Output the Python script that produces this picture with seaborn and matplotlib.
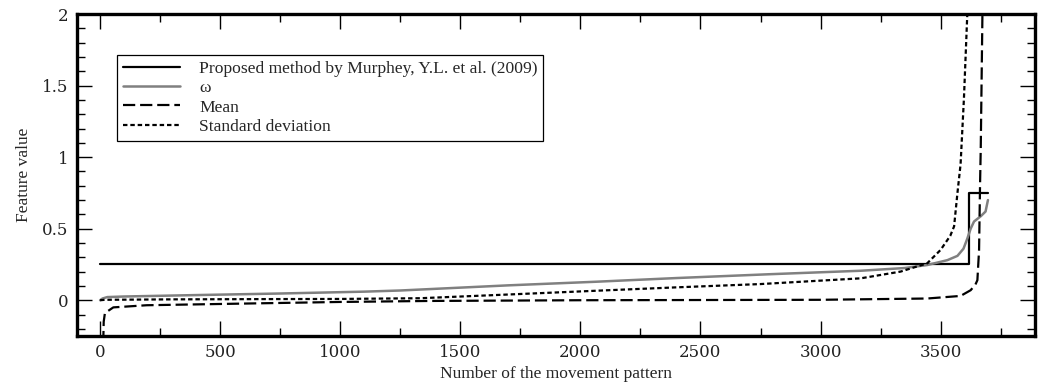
import numpy as np
import pandas as pd
import matplotlib
matplotlib.use("Agg")
import matplotlib.pyplot as plt
import seaborn as sns
from matplotlib.ticker import MultipleLocator

# ---- data ----
proposed_x = [0, 3618, 3618, 3697]
proposed_y = [0.25, 0.25, 0.75, 0.75]

omega_x = [0, 10, 30, 100, 400, 750, 1100, 1250, 1375, 1700, 2062, 2400, 2792, 3167,
           3350, 3444, 3528, 3570, 3595, 3611, 3625, 3639, 3667, 3687, 3697]
omega_y = [0.0, 0.012, 0.022, 0.026, 0.036, 0.047, 0.060, 0.068, 0.078, 0.104, 0.129,
           0.155, 0.182, 0.206, 0.225, 0.246, 0.280, 0.310, 0.360, 0.430, 0.500, 0.550,
           0.587, 0.620, 0.700]

mean_x = [13, 15, 20, 55, 194, 611, 1000, 1375, 2000, 3000, 3444, 3583, 3625, 3645,
          3653, 3660, 3664, 3667, 3674, 3676]
mean_y = [-0.30, -0.15, -0.09, -0.05, -0.035, -0.023, -0.012, -0.005, 0.0, 0.003,
          0.012, 0.030, 0.070, 0.110, 0.140, 0.350, 0.800, 1.060, 2.000, 2.200]

std_x = [0, 20, 300, 700, 1000, 1333, 1700, 2062, 2400, 2750, 3167, 3333, 3444, 3500,
         3540, 3556, 3570, 3583, 3597, 3611, 3615]
std_y = [0.0, 0.003, 0.006, 0.008, 0.009, 0.014, 0.040, 0.066, 0.090, 0.113, 0.153,
         0.200, 0.258, 0.352, 0.450, 0.516, 0.750, 0.950, 1.410, 2.000, 2.200]

labels = ["Proposed method by Murphey, Y.L. et al. (2009)", "\u03c9", "Mean",
          "Standard deviation"]

xticks = [0, 500, 1000, 1500, 2000, 2500, 3000, 3500]
yticks = [0, 0.5, 1, 1.5, 2]
ytick_labels = ["0", "0.5", "1", "1.5", "2"]

# ---- plotting ----
sns.set_theme(style="white")
plt.rcParams["font.family"] = ["Liberation Serif", "DejaVu Serif"]

fig = plt.figure(figsize=(10.44, 3.83), dpi=100)
ax = fig.add_axes([0.0738, 0.1227, 0.9176, 0.8407])

def df(x, y):
    return pd.DataFrame({"x": x, "y": y})

sns.lineplot(data=df(proposed_x, proposed_y), x="x", y="y", ax=ax, sort=False,
             estimator=None, color="black", linewidth=1.6, label=labels[0])
sns.lineplot(data=df(omega_x, omega_y), x="x", y="y", ax=ax, sort=False,
             estimator=None, color="#808080", linewidth=1.8, label=labels[1])
sns.lineplot(data=df(mean_x, mean_y), x="x", y="y", ax=ax, sort=False,
             estimator=None, color="black", linewidth=1.6, label=labels[2])
sns.lineplot(data=df(std_x, std_y), x="x", y="y", ax=ax, sort=False,
             estimator=None, color="black", linewidth=1.6, label=labels[3])

lines = ax.get_lines()
lines[2].set_dashes([5.5, 2.2])
lines[3].set_dashes([2.0, 1.3])

ax.set_xlim(-96, 3893)
ax.set_ylim(-0.25, 2)

ax.set_xticks(xticks)
ax.set_xticklabels([str(t) for t in xticks], family="DejaVu Serif", fontsize=12,
                   color="#222222")
ax.set_yticks(yticks)
ax.set_yticklabels(ytick_labels, family="DejaVu Serif", fontsize=12, color="#222222")
ax.xaxis.set_minor_locator(MultipleLocator(250))
ax.yaxis.set_minor_locator(MultipleLocator(0.1))

ax.tick_params(which="both", direction="in", top=True, right=True, bottom=True,
               left=True, color="black", width=1.0)
ax.tick_params(which="major", length=11, pad=6)
ax.tick_params(which="minor", length=5.5)

for s in ax.spines.values():
    s.set_visible(True)
    s.set_color("black")
    s.set_linewidth(2.4)

ax.set_xlabel("Number of the movement pattern", fontsize=12.5, labelpad=3)
ax.set_ylabel("Feature value", fontsize=12.5, labelpad=7.5)

leg = ax.legend(loc="upper left", bbox_to_anchor=(0.042, 0.873), fontsize=12.6,
                frameon=True, fancybox=False, edgecolor="black", framealpha=1,
                handlelength=3.26, handletextpad=1.1, labelspacing=0.18,
                borderpad=0.32, borderaxespad=0)
leg.get_frame().set_linewidth(0.9)

fig.savefig("out.png", dpi=100)
